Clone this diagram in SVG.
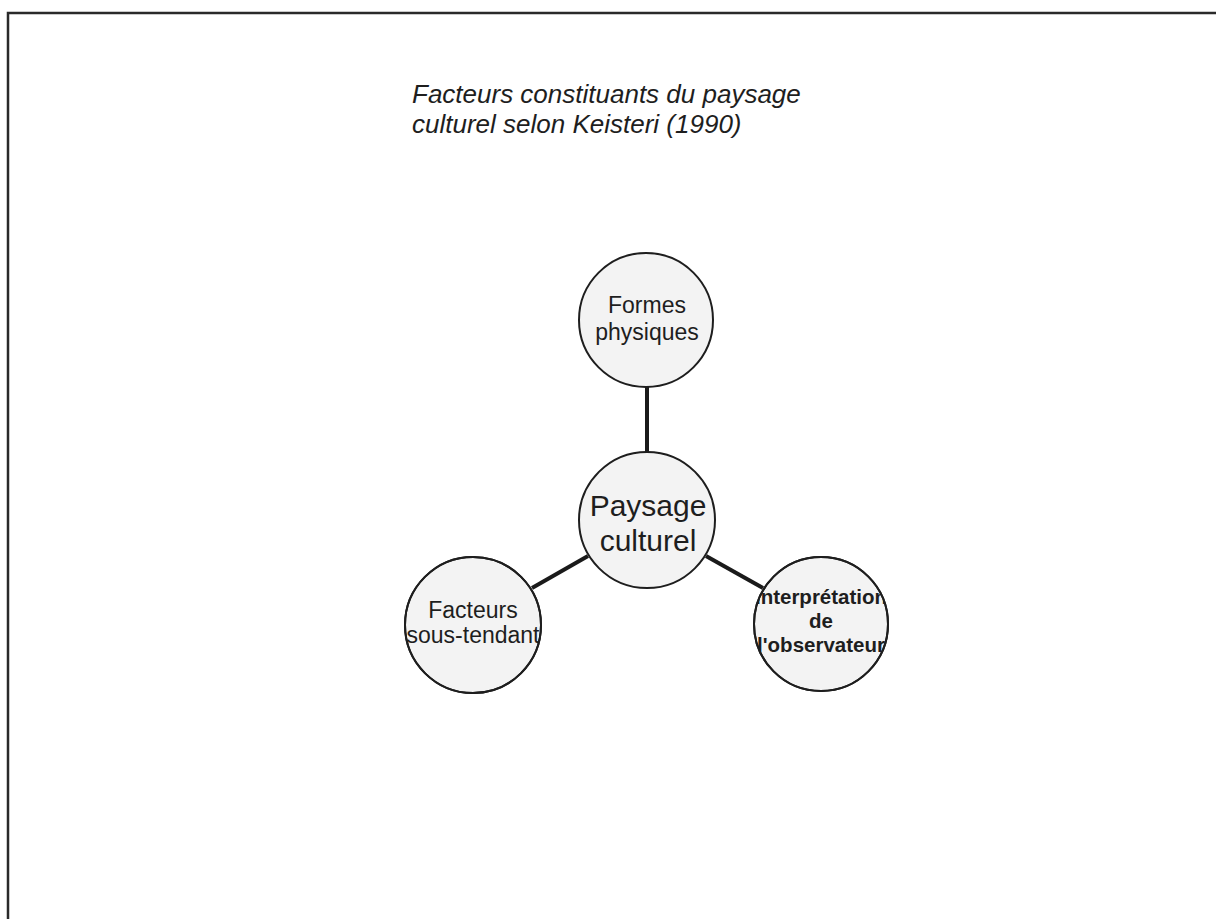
<svg xmlns="http://www.w3.org/2000/svg" width="1216" height="919" viewBox="0 0 1216 919">
  <style>
    .frame { stroke: #2a2a2a; stroke-width: 2.5; fill: none; }
    .title { font-family: "Liberation Sans", Arial, sans-serif; font-style: italic; font-size: 26px; fill: #1e1e1e; }
    .node { fill: #f3f3f3; stroke: #1e1e1e; stroke-width: 2; }
    .label { font-family: "Liberation Sans", Arial, sans-serif; font-size: 23px; fill: #1e1e1e; text-anchor: middle; }
    .big { font-size: 30px; }
    .bold { font-weight: bold; font-size: 20.5px; }
    .link { stroke: #1a1a1a; stroke-width: 4; stroke-linecap: butt; }
  </style>
  <defs>
    <clipPath id="clip-obs"><circle cx="821" cy="624" r="67"/></clipPath>
    <clipPath id="clip-fact"><circle cx="473" cy="625" r="68"/></clipPath>
  </defs>
  <rect width="1216" height="919" fill="#ffffff"/>

  <!-- page frame -->
  <path class="frame" d="M8,919 V13 H1216"/>

  <!-- title -->
  <g id="title">
    <text class="title" x="412" y="103">Facteurs constituants du paysage</text>
    <text class="title" x="412" y="133">culturel selon Keisteri (1990)</text>
  </g>

  <!-- connectors -->
  <g id="connectors">
    <line class="link" x1="647" y1="387" x2="647" y2="453"/>
    <line class="link" x1="532" y1="588" x2="588" y2="556"/>
    <line class="link" x1="706" y1="556" x2="763" y2="588"/>
  </g>

  <g id="formes-physiques">
    <circle class="node" cx="646" cy="320" r="67"/>
    <text class="label" x="647" y="313">Formes</text>
    <text class="label" x="647" y="340">physiques</text>
  </g>

  <g id="paysage-culturel">
    <circle class="node" cx="647" cy="520" r="68"/>
    <text class="label big" x="648" y="516">Paysage</text>
    <text class="label big" x="648" y="551">culturel</text>
  </g>

  <g id="facteurs-sous-tendant">
    <circle class="node" cx="473" cy="625" r="68"/>
    <g clip-path="url(#clip-fact)">
      <text class="label" x="473" y="618">Facteurs</text>
      <text class="label" x="473" y="643">sous-tendant</text>
    </g>
    <circle cx="473" cy="625" r="68" fill="none" stroke="#1e1e1e" stroke-width="2"/>
  </g>

  <g id="interpretation-observateur">
    <circle class="node" cx="821" cy="624" r="67"/>
    <g clip-path="url(#clip-obs)">
      <text class="label bold" x="821" y="604">Interprétation</text>
      <text class="label bold" x="821" y="628">de</text>
      <text class="label bold" x="821" y="652">l'observateur</text>
    </g>
    <circle cx="821" cy="624" r="67" fill="none" stroke="#1e1e1e" stroke-width="2"/>
  </g>
</svg>
